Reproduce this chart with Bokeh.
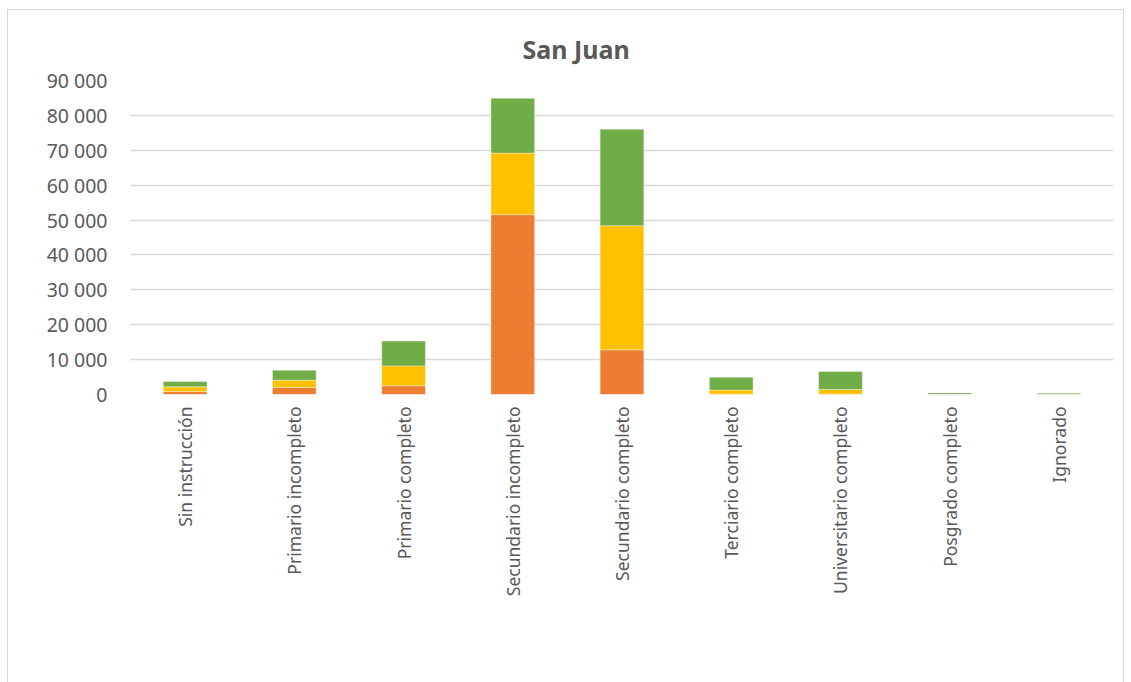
from bokeh.plotting import figure
from bokeh.models import FactorRange, Legend, LegendItem, FixedTicker, Range1d
from bokeh.embed import file_html
from bokeh.resources import INLINE
import math

categories = ["Sin instrucción", "Primario incompleto", "Primario completo",
              "Secundario incompleto", "Secundario completo", "Terciario completo",
              "Universitario completo", "Posgrado completo", "Ignorado"]
total_15_19 = [850, 2000, 2500, 51550, 12800, 60, 80, 0, 0]
total_20_24 = [1350, 2100, 5700, 17650, 35600, 1200, 1350, 30, 30]
total_25_29 = [1500, 2850, 7100, 15700, 27650, 3700, 5150, 400, 350]
series_names = ["Total  15 a 19", "Total  20 a 24", "Total  25 a 29"]
colors = ["#ED7D31", "#FFC000", "#70AD47"]
y_ticks = [0, 10000, 20000, 30000, 40000, 50000, 60000, 70000, 80000, 90000]
y_tick_labels = ["0", "10 000", "20 000", "30 000", "40 000", "50 000",
                 "60 000", "70 000", "80 000", "90 000"]

FONT = "Noto Sans"
GREY = "#595959"

data = {"cat": categories, "s1": total_15_19, "s2": total_20_24, "s3": total_25_29}

p = figure(x_range=FactorRange(*categories, range_padding=0),
           y_range=Range1d(0, 90000),
           frame_width=983, frame_height=314, output_backend="svg", toolbar_location=None,
           min_border_left=122, min_border_right=10, min_border_top=70,
           min_border_bottom=10,
           title="San Juan")
p.styles = {"margin-left": "7px", "margin-top": "9px", "border": "1px solid #d9d9d9"}

renderers = p.vbar_stack(["s1", "s2", "s3"], x="cat", width=0.4, color=colors,
                         line_color="white", line_width=0.6, line_alpha=0.6,
                         source=data)

p.title.align = "left"
p.title.offset = 392
p.title.text_font = FONT
p.title.text_font_size = "25px"
p.title.text_font_style = "bold"
p.title.text_color = GREY
p.title.standoff = 30

p.outline_line_color = None
p.xgrid.grid_line_color = None
p.ygrid.grid_line_color = "#d9d9d9"
p.ygrid.grid_line_width = 1.5
p.ygrid.ticker = FixedTicker(ticks=y_ticks)

p.yaxis.ticker = FixedTicker(ticks=y_ticks)
p.yaxis.major_label_overrides = {t: l for t, l in zip(y_ticks, y_tick_labels)}
p.yaxis.axis_line_color = None
p.yaxis.major_tick_line_color = None
p.yaxis.minor_tick_line_color = None
p.yaxis.major_tick_out = 0
p.yaxis.major_label_text_font = FONT
p.yaxis.major_label_text_font_size = "19.5px"
p.yaxis.major_label_text_color = GREY
p.yaxis.major_label_standoff = 23

p.xaxis.axis_line_color = None
p.xaxis.major_tick_line_color = None
p.xaxis.minor_tick_line_color = None
p.xaxis.major_tick_out = 0
p.xaxis.major_tick_in = 0
p.xaxis.major_label_orientation = math.pi / 2
p.xaxis.major_label_text_font = FONT
p.xaxis.major_label_text_font_size = "17.5px"
p.xaxis.major_label_text_color = GREY
p.xaxis.major_label_standoff = 12

legend = Legend(items=[LegendItem(label=n, renderers=[r]) for n, r in zip(series_names, renderers)],
                orientation="horizontal", location=(186, 0),
                label_text_font=FONT, label_text_font_size="19.5px", label_text_color=GREY,
                glyph_width=13, glyph_height=13, spacing=33, label_standoff=6,
                border_line_color=None, background_fill_alpha=0, padding=0, margin=0)
p.add_layout(legend, "below")

open("out.html", "w").write(file_html(p, INLINE))
